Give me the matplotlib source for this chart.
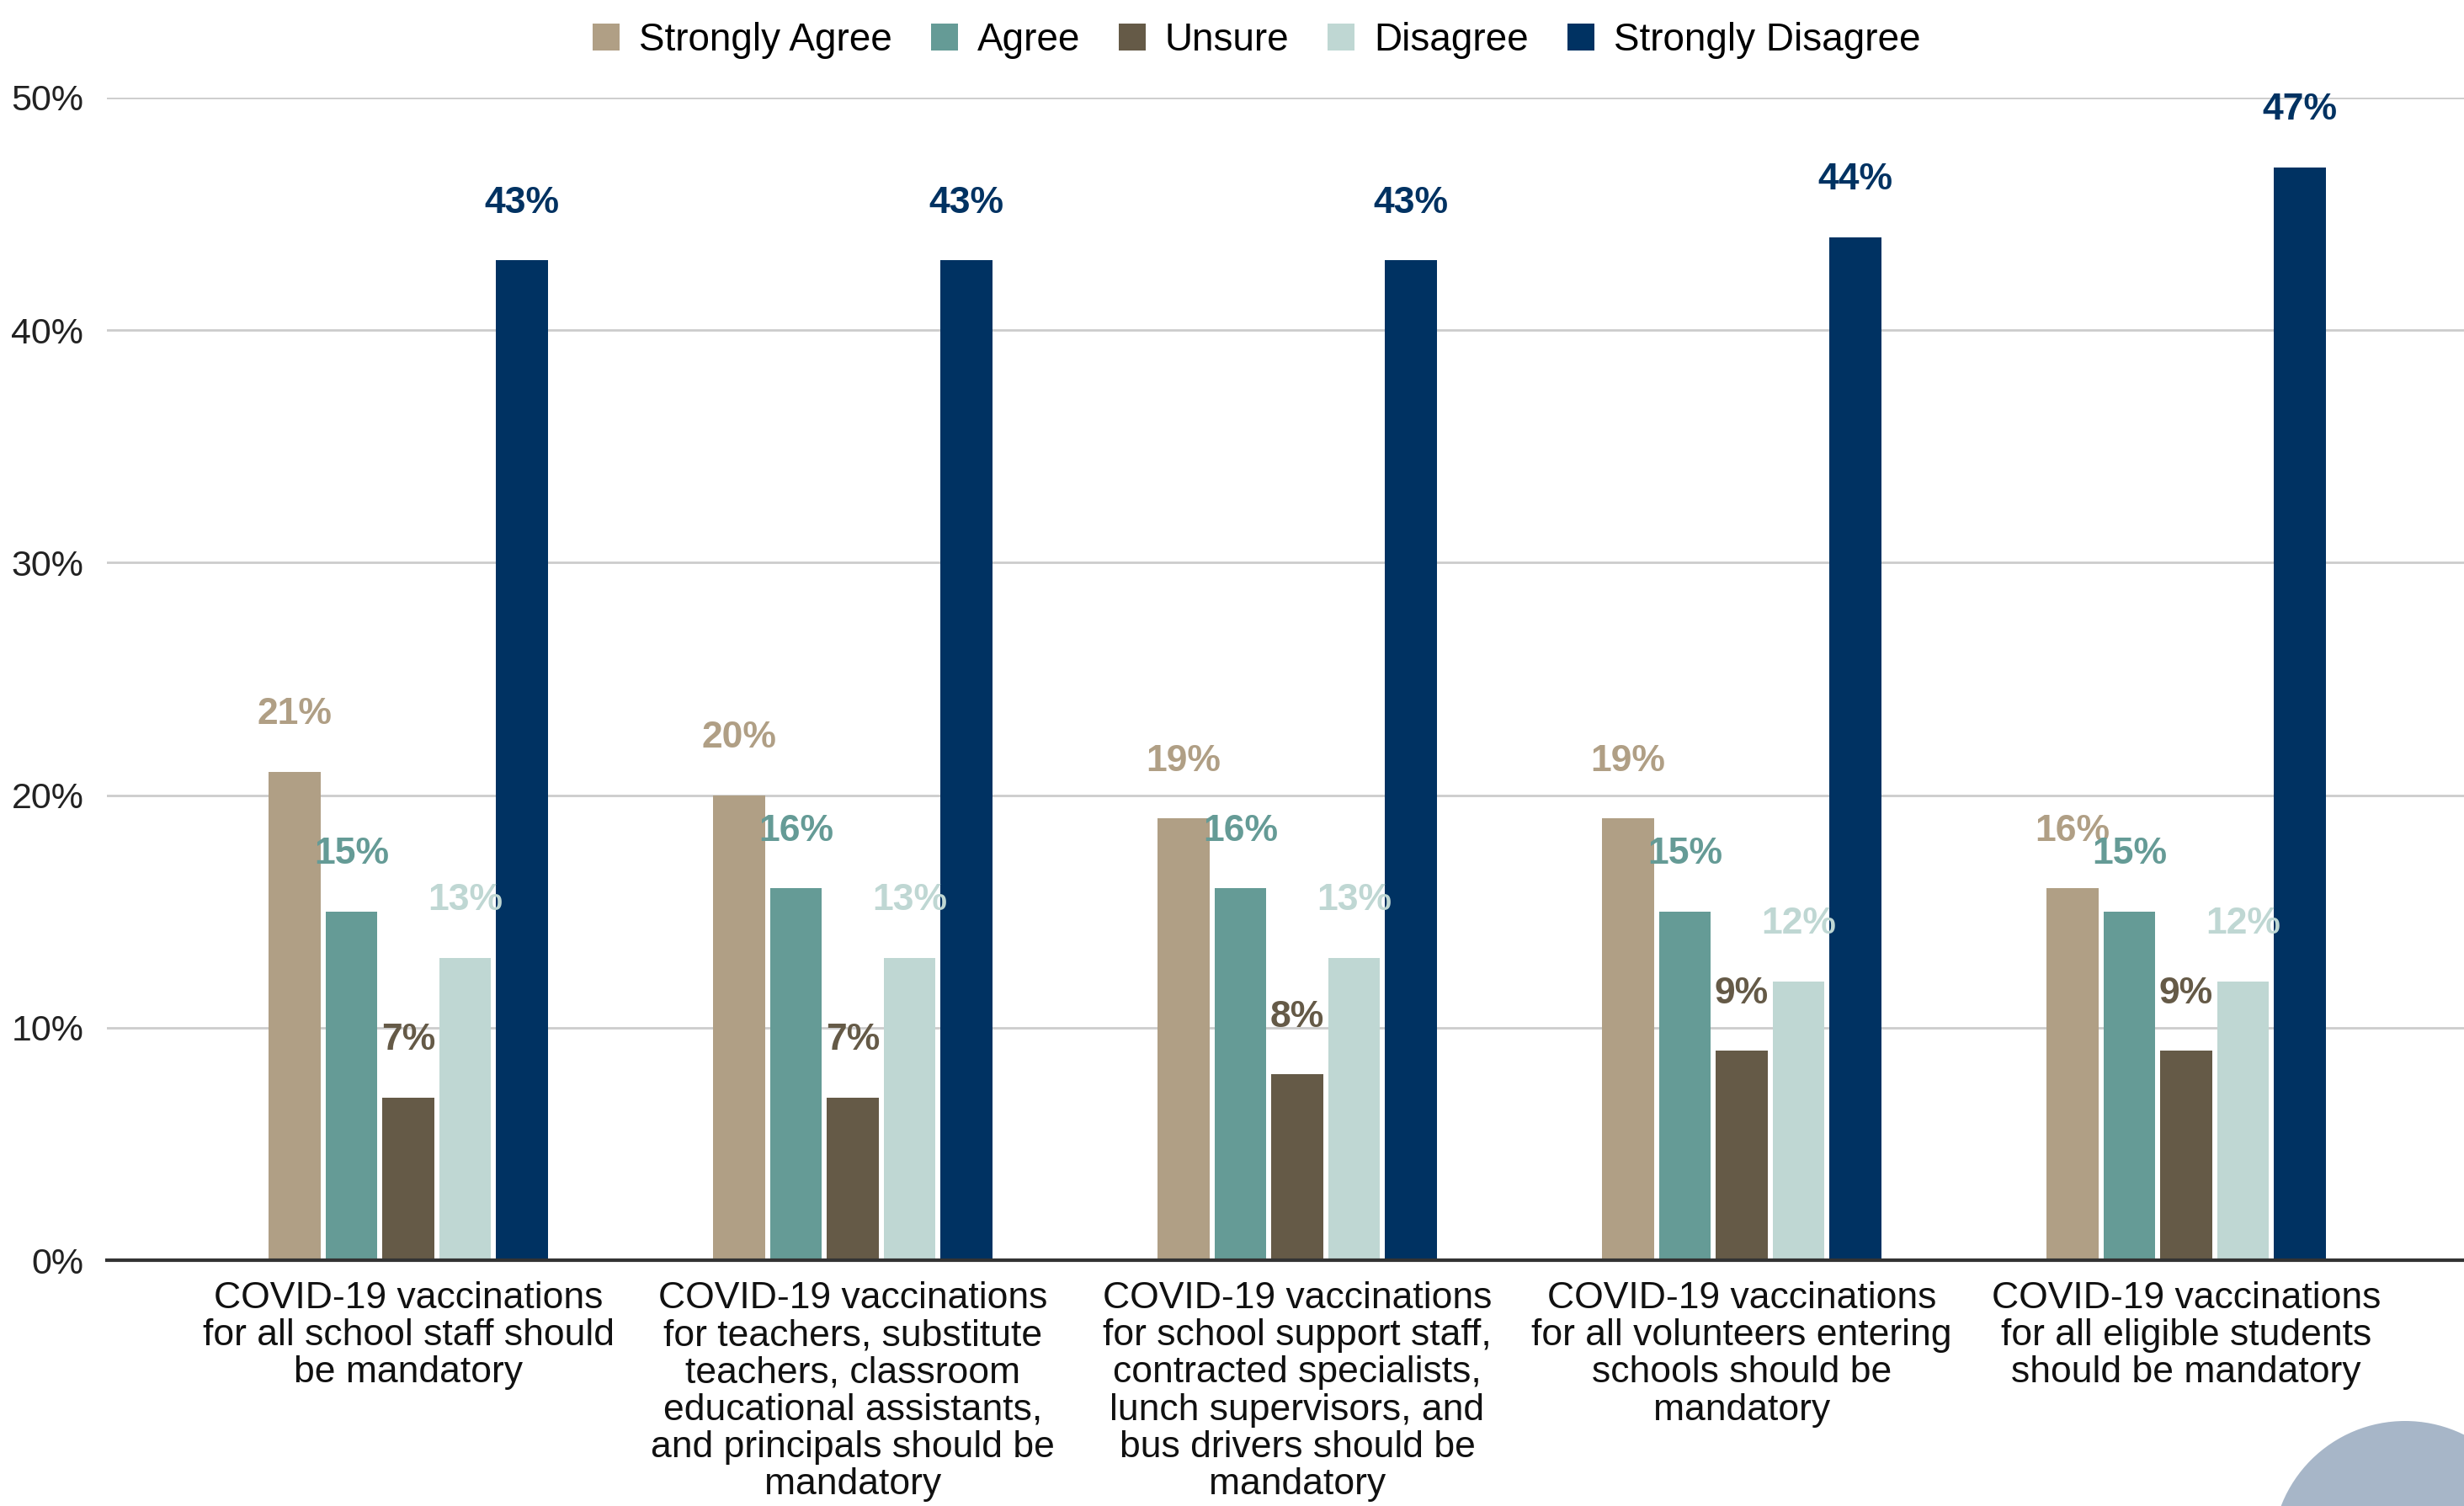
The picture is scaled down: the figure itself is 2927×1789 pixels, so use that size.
import matplotlib
matplotlib.use("Agg")
import matplotlib.pyplot as plt
from matplotlib.patches import Patch, Circle
import numpy as np

plt.rcParams["font.family"] = ["Liberation Sans", "DejaVu Sans"]

categories = [
    "COVID-19 vaccinations\nfor all school staff should\nbe mandatory",
    "COVID-19 vaccinations\nfor teachers, substitute\nteachers, classroom\neducational assistants,\nand principals should be\nmandatory",
    "COVID-19 vaccinations\nfor school support staff,\ncontracted specialists,\nlunch supervisors, and\nbus drivers should be\nmandatory",
    "COVID-19 vaccinations\nfor all volunteers entering\nschools should be\nmandatory",
    "COVID-19 vaccinations\nfor all eligible students\nshould be mandatory",
]
series = ["Strongly Agree", "Agree", "Unsure", "Disagree", "Strongly Disagree"]
strongly_agree = [21, 20, 19, 19, 16]
agree = [15, 16, 16, 15, 15]
unsure = [7, 7, 8, 9, 9]
disagree = [13, 13, 13, 12, 12]
strongly_disagree = [43, 43, 43, 44, 47]
colors = ["#B09F85", "#659B96", "#655A47", "#BFD7D3", "#003262"]

values = [strongly_agree, agree, unsure, disagree, strongly_disagree]

fig = plt.figure(figsize=(29.27, 17.89), dpi=100)
ax = fig.add_axes([0.0434, 0.1632, 0.9566, 0.772])

x = np.arange(len(categories))
step = 0.128
width = 0.117
for i, (name, vals, col) in enumerate(zip(series, values, colors)):
    pos = x + (i - 2) * step
    fracs = [v / 100 for v in vals]
    ax.bar(pos, fracs, width=width, color=col, zorder=3)
    for px, v in zip(pos, vals):
        ax.annotate(f"{v}%", (px, v / 100), xytext=(0, 49), textcoords="offset points",
                    ha="center", va="center", fontsize=32, fontweight="bold",
                    color=col, zorder=4)

ax.set_ylim(0, 0.5)
ax.set_xlim(-0.678, 4.625)
ax.set_yticks([0, 0.1, 0.2, 0.3, 0.4, 0.5])
ax.set_yticklabels(["0%", "10%", "20%", "30%", "40%", "50%"], fontsize=31, color="#222222")
ax.tick_params(axis="y", length=0, pad=20)
ax.grid(axis="y", color="#CCCCCC", linewidth=2, zorder=0)
ax.set_xticks(x)
ax.set_xticklabels(categories, fontsize=32, linespacing=1.1, color="#111111")
ax.tick_params(axis="x", length=0, pad=18)
for s in ["top", "right", "left"]:
    ax.spines[s].set_visible(False)
ax.spines["bottom"].set_color("#333333")
ax.spines["bottom"].set_linewidth(3)
ax.spines["bottom"].set_zorder(5)

handles = [Patch(facecolor=c, label=n) for n, c in zip(series, colors)]
fig.legend(handles=handles, loc="center", bbox_to_anchor=(0.51, 0.973), ncol=5,
           frameon=False, fontsize=33, handlelength=0.7, handleheight=0.7,
           handletextpad=0.5, columnspacing=1.0)

fig.patches.append(Circle((2857, 1789 - 1846), 158, transform=None,
                          facecolor="#A7B6C8", edgecolor="none"))

fig.savefig("out.png", dpi=100)
